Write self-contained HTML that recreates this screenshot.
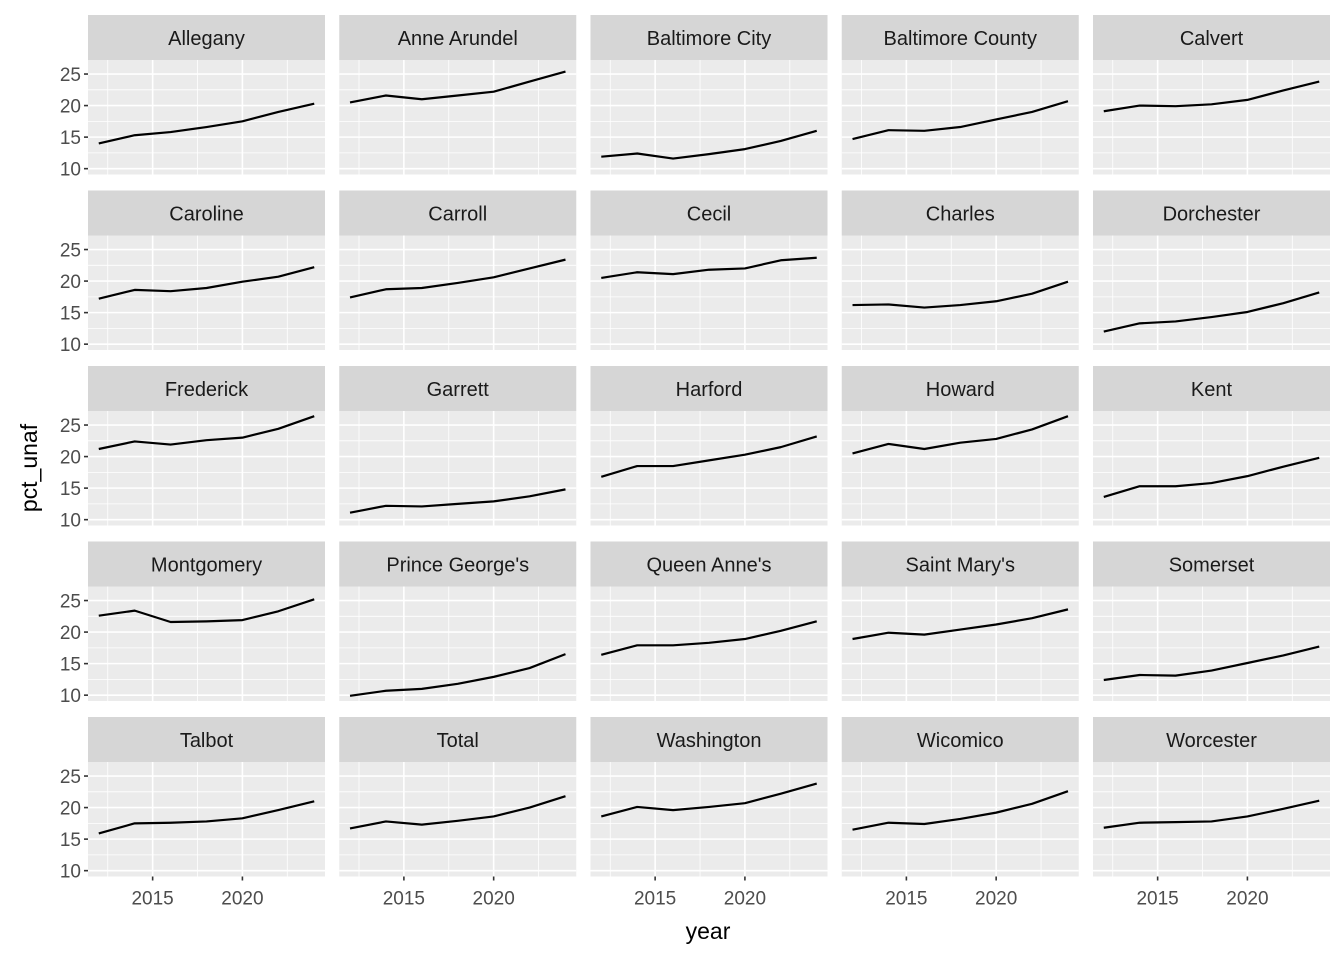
<!DOCTYPE html>
<html><head><meta charset="utf-8"><style>
html,body{margin:0;padding:0;background:#fff;}
svg{display:block;font-family:"Liberation Sans",Arial,sans-serif;}
</style></head><body>
<svg id="chart" width="1344" height="960" viewBox="0 0 1344 960" xmlns="http://www.w3.org/2000/svg">
<text x="708" y="939" font-size="23" text-anchor="middle" fill="#000">year</text>
<text transform="translate(37,468) rotate(-90)" font-size="23" text-anchor="middle" fill="#000">pct_unaf</text>
</svg>
<script>
const counties = ["Allegany","Anne Arundel","Baltimore City","Baltimore County","Calvert","Caroline","Carroll","Cecil","Charles","Dorchester","Frederick","Garrett","Harford","Howard","Kent","Montgomery","Prince George's","Queen Anne's","Saint Mary's","Somerset","Talbot","Total","Washington","Wicomico","Worcester"];
const years = [2012,2014,2016,2018,2020,2022,2024];
const values = [
[14.0,15.3,15.8,16.6,17.5,19.0,20.3],
[20.5,21.6,21.0,21.6,22.2,23.8,25.4],
[11.9,12.4,11.6,12.3,13.1,14.4,16.0],
[14.7,16.1,16.0,16.6,17.8,19.0,20.7],
[19.1,20.0,19.9,20.2,20.9,22.4,23.8],
[17.2,18.6,18.4,18.9,19.9,20.7,22.2],
[17.4,18.7,18.9,19.7,20.6,22.0,23.4],
[20.5,21.4,21.1,21.8,22.0,23.3,23.7],
[16.2,16.3,15.8,16.2,16.8,18.0,19.9],
[12.0,13.3,13.6,14.3,15.1,16.5,18.2],
[21.2,22.4,21.9,22.6,23.0,24.4,26.4],
[11.1,12.2,12.1,12.5,12.9,13.7,14.8],
[16.8,18.5,18.5,19.4,20.3,21.5,23.2],
[20.5,22.0,21.2,22.2,22.8,24.3,26.4],
[13.6,15.3,15.3,15.8,16.9,18.4,19.8],
[22.6,23.4,21.6,21.7,21.9,23.3,25.2],
[9.9,10.7,11.0,11.8,12.9,14.3,16.5],
[16.4,17.9,17.9,18.3,18.9,20.2,21.7],
[18.9,19.9,19.6,20.4,21.2,22.2,23.6],
[12.4,13.2,13.1,13.9,15.1,16.3,17.7],
[15.9,17.5,17.6,17.8,18.3,19.6,21.0],
[16.7,17.8,17.3,17.9,18.6,20.0,21.8],
[18.6,20.1,19.6,20.1,20.7,22.2,23.8],
[16.5,17.6,17.4,18.2,19.2,20.6,22.6],
[16.8,17.6,17.7,17.8,18.6,19.8,21.1]
];
const yTicks = [10,15,20,25];
const yMinor = [12.5,17.5,22.5];
const xTicks = [2015,2020];
const xMinor = [2012.5,2017.5,2022.5];

const NS="http://www.w3.org/2000/svg";
const svg=document.getElementById('chart');
function mk(tag,attrs,parent){const e=document.createElementNS(NS,tag);for(const k in attrs)e.setAttribute(k,attrs[k]);(parent||svg).appendChild(e);return e;}
const allV=values.flat();
const vmin=Math.min(...allV), vmax=Math.max(...allV);
const vpad=(vmax-vmin)*0.05;
const y0=vmin-vpad, y1=vmax+vpad;
const xmin=Math.min(...years), xmax=Math.max(...years);
const xpad=(xmax-xmin)*0.05;
const x0=xmin-xpad, x1=xmax+xpad;
const PW=237, PH=114.5, SH=45, colStep=251.25, rowStep=175.5, left0=88, top0=15;

counties.forEach((name,i)=>{
  const c=i%5, r=Math.floor(i/5);
  const px=left0+c*colStep, sy=top0+r*rowStep, py=sy+SH;
  const sx=v=>px+(v-x0)/(x1-x0)*PW;
  const syv=v=>py+PH-(v-y0)/(y1-y0)*PH;
  const g=mk('g',{});
  
  
  const strip=mk('rect',{x:px,y:sy,width:PW,height:SH,fill:'#d6d6d6'},g);
  
  
  const st=mk('text',{x:px+PW/2,y:sy+30,'font-size':20,'text-anchor':'middle',fill:'#1a1a1a'},g);
  st.textContent=name;
  
  
  const bg=mk('rect',{x:px,y:py,width:PW,height:PH,fill:'#ebebeb'},g);
  
  
  yMinor.forEach(v=>mk('line',{x1:px,x2:px+PW,y1:syv(v),y2:syv(v),stroke:'#fff','stroke-width':0.8},g));
  xMinor.forEach(v=>mk('line',{x1:sx(v),x2:sx(v),y1:py,y2:py+PH,stroke:'#fff','stroke-width':0.8},g));
  yTicks.forEach(v=>mk('line',{x1:px,x2:px+PW,y1:syv(v),y2:syv(v),stroke:'#fff','stroke-width':1.6},g));
  xTicks.forEach(v=>mk('line',{x1:sx(v),x2:sx(v),y1:py,y2:py+PH,stroke:'#fff','stroke-width':1.6},g));
  const pts=years.map((yr,k)=>sx(yr).toFixed(2)+','+syv(values[i][k]).toFixed(2)).join(' ');
  const ln=mk('polyline',{points:pts,fill:'none',stroke:'#000','stroke-width':2.2,'stroke-linejoin':'round'},g);
  
  
  if(c===0){
    yTicks.forEach(v=>{
      mk('line',{x1:px-4,x2:px,y1:syv(v),y2:syv(v),stroke:'#333','stroke-width':1.6},g);
      const t=mk('text',{x:px-7,y:syv(v)+7,'font-size':19,'text-anchor':'end',fill:'#4d4d4d'},g);
      t.textContent=v;
      
      
    });
  }
  if(r===4){
    xTicks.forEach(v=>{
      mk('line',{x1:sx(v),x2:sx(v),y1:py+PH,y2:py+PH+4,stroke:'#333','stroke-width':1.6},g);
      const t=mk('text',{x:sx(v),y:py+PH+28,'font-size':19,'text-anchor':'middle',fill:'#4d4d4d'},g);
      t.textContent=v;
      
      
    });
  }
});
</script>
</body></html>
